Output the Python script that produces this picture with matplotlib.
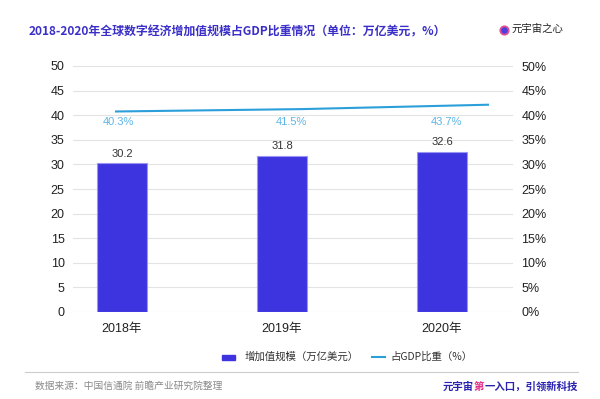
import matplotlib
matplotlib.use("Agg")
import matplotlib.pyplot as plt
from matplotlib.lines import Line2D
from matplotlib.patches import Rectangle
from matplotlib.font_manager import FontProperties

plt.rcParams['font.family'] = ['Liberation Sans', 'Noto Sans CJK SC', 'DejaVu Sans']

# ---- data ----
years = ['2018年', '2019年', '2020年']
scale_values = [30.2, 31.8, 32.6]          # 增加值规模（万亿美元）
gdp_share = [40.3, 41.5, 43.7]             # 占GDP比重（%）
left_ticks = [0, 5, 10, 15, 20, 25, 30, 35, 40, 45, 50]
right_ticks = [0, 5, 10, 15, 20, 25, 30, 35, 40, 45, 50]

W, H = 600, 399
fig = plt.figure(figsize=(W / 100, H / 100), dpi=100)
fig.patch.set_facecolor('white')
CJK = ['Noto Sans CJK SC', 'DejaVu Sans']

ax_l, ax_r, ax_b, ax_t = 73, 513, 312, 66
pos = [ax_l / W, 1 - ax_b / H, (ax_r - ax_l) / W, (ax_b - ax_t) / H]
ax = fig.add_axes(pos)
x = list(range(len(years)))

bar_color = '#3d34e0'
ax.bar(x, scale_values, width=0.31, color=bar_color, edgecolor='#9a95f2',
       linewidth=0.8, zorder=3)
for xi, v in zip(x, scale_values):
    ax.annotate(f'{v:.1f}', (xi, v), xytext=(0, 3), textcoords='offset points',
                ha='center', va='bottom', fontsize=8, color='#333333')

ax.set_xlim(-0.306, 2.444)
ax.set_ylim(0, 50)
ax.set_yticks(left_ticks)
ax.set_xticks(x)
ax.set_xticklabels(years)
for s in ax.spines.values():
    s.set_visible(False)
ax.tick_params(axis='y', length=0, labelsize=9, colors='#222222', pad=6)
ax.tick_params(axis='x', length=0, labelsize=9, colors='#222222', pad=8)
ax.grid(axis='y', color='#e3e3e3', linewidth=0.8, zorder=0)
ax.set_axisbelow(True)

ax2 = ax.twinx()
ax2.set_ylim(0, 50)
ax2.set_yticks(right_ticks)
ax2.set_yticklabels([f'{t}%' for t in right_ticks])
for s in ax2.spines.values():
    s.set_visible(False)
ax2.tick_params(axis='y', length=0, labelsize=9, colors='#222222', pad=6)

line_color = '#2b9fda'
for xi, v, dx in zip(x, gdp_share, [-0.025, 0.06, 0.03]):
    ax2.text(xi + dx, 38.6, f'{v:.1f}%', ha='center', va='center',
             fontsize=8, color='#5bb5e8')

# line drawn on its own (hidden) scale as in the reference
ax3 = fig.add_axes(pos, frameon=False)
ax3.plot(x, gdp_share, color=line_color, linewidth=1.5, solid_capstyle='butt')
ax3.set_xlim(-0.2246, 2.128)
ax3.set_ylim(-59.95, 63.05)
ax3.set_xticks([])
ax3.set_yticks([])

# ---- title ----
fig.text(29 / W, 1 - 32 / H,
         '2018-2020年全球数字经济增加值规模占GDP比重情况（单位：万亿美元，%）',
         fontsize=8.6, fontweight='bold', color='#3a2fc8', ha='left', va='center',
         family=CJK)

# logo
fig.add_artist(Line2D([504 / W], [1 - 30 / H], marker='o', markersize=6,
                      markerfacecolor='#4b3fe0', markeredgecolor='#e0508f',
                      markeredgewidth=1.3, transform=fig.transFigure))
fig.text(511 / W, 1 - 29 / H, '元宇宙之心', fontsize=7.5, color='#222222',
         ha='left', va='center', family=CJK)

# ---- legend ----
fig.add_artist(Rectangle((222 / W, 1 - 360 / H), 13 / W, 5 / H,
                         color=bar_color, transform=fig.transFigure))
fig.text(245 / W, 1 - 357 / H, '增加值规模（万亿美元）', fontsize=7.5, color='#333333',
         ha='left', va='center', family=CJK)
fig.add_artist(Line2D([372 / W, 385 / W], [1 - 357 / H, 1 - 357 / H],
                      color=line_color, linewidth=1.5, transform=fig.transFigure))
fig.text(390 / W, 1 - 357 / H, '占GDP比重（%）', fontsize=7.5, color='#333333',
         ha='left', va='center', family=CJK)

# ---- footer ----
fig.add_artist(Line2D([25 / W, 578 / W], [1 - 372 / H, 1 - 372 / H],
                      color='#cccccc', linewidth=0.8, transform=fig.transFigure))
fig.text(35 / W, 1 - 386 / H, '数据来源：中国信通院 前瞻产业研究院整理', fontsize=7,
         color='#8a8a8a', ha='left', va='center', family=CJK)

fp = FontProperties(family=CJK, size=7.5, weight='bold')
t1 = fig.text(459 / W, 1 - 390 / H, '元宇宙', fontproperties=fp, color='#2a22b0',
              ha='left', va='baseline')
t2 = fig.text(0, 0, '第', fontproperties=fp, color='#e0308a', ha='left', va='baseline')
t3 = fig.text(0, 0, '一入口，引领新科技', fontproperties=fp, color='#2a22b0',
              ha='left', va='baseline')
em = fp.get_size_in_points() * 100 / 72.0   # one full-width character
w1, w2, w3 = 3 * em, 1 * em, 9 * em
x0 = 578 - (w1 + w2 + w3)
yb = 1 - 390 / H
t1.set_position((x0 / W, yb))
t2.set_position(((x0 + w1) / W, yb))
t3.set_position(((x0 + w1 + w2) / W, yb))

fig.savefig('out.png', dpi=100, facecolor='white')
